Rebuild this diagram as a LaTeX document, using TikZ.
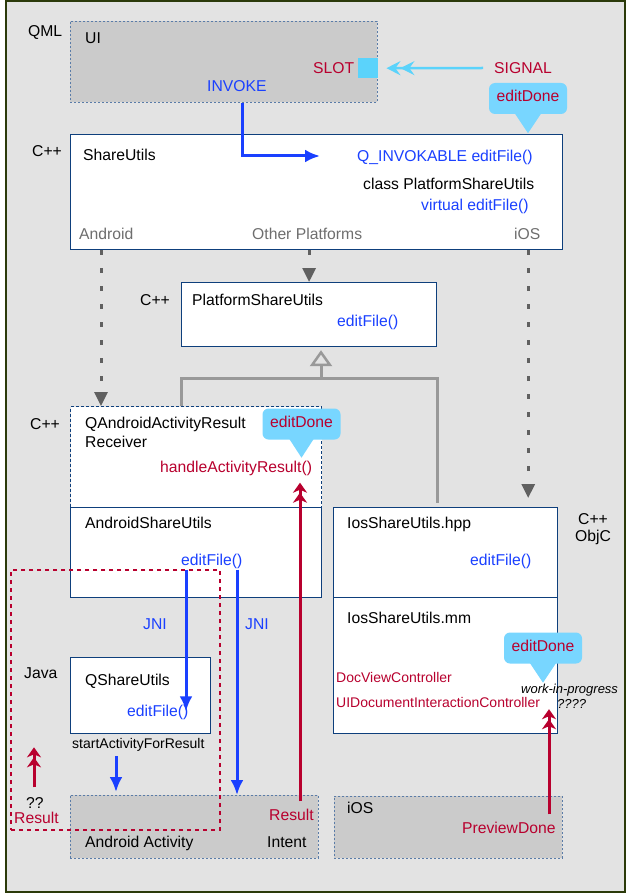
\documentclass[tikz,border=0pt]{standalone}
\usepackage{fontspec}
\setmainfont{Liberation Sans}
\usetikzlibrary{arrows.meta}

\definecolor{frameedge}{HTML}{2B3A0A}
\definecolor{bggray}{HTML}{E3E3E3}
\definecolor{pgray}{HTML}{CBCBCB}
\definecolor{navy}{HTML}{0E3F7C}
\definecolor{qtblue}{HTML}{1A40FF}
\definecolor{qtred}{HTML}{B8002E}
\definecolor{qtcyan}{HTML}{5BD3FB}
\definecolor{bubble}{HTML}{78D6FF}
\definecolor{lblgray}{HTML}{6E6E6E}
\definecolor{dotgray}{HTML}{606060}
\definecolor{inhgray}{HTML}{999999}
\definecolor{dotedge}{HTML}{5A7CA8}

\begin{document}
\begin{tikzpicture}
[
    x=1pt, y=-1pt,
    txt/.style={anchor=west, inner sep=0pt, text height=11pt, text depth=0pt, font=\fontsize{15.7}{18}\selectfont},
    note/.style={txt, text height=10pt, font=\fontsize{14}{16}\selectfont},
    fn/.style={txt, text=qtblue},
    sig/.style={txt, text=qtred},
    side/.style={txt, text=lblgray},
    cls/.style={draw=navy, line width=1.2pt, fill=white, anchor=north west, inner sep=0pt},
    rcv/.style={cls, dash pattern=on 3pt off 2pt},
    sys/.style={draw=dotedge, line width=0.8pt, dash pattern=on 2pt off 2pt, fill=pgray, anchor=north west, inner sep=0pt},
    bub/.style={fill=bubble, rounded corners=6pt, minimum width=78pt, minimum height=31pt, inner sep=0pt, text=qtred, text height=11pt, text depth=5pt, font=\fontsize{15.7}{18}\selectfont},
    call/.style={-{Latex[length=15pt,width=13pt]}, line width=3pt, qtblue},
    ret/.style={-{Stealth[length=10pt,width=14pt,inset=3pt]Stealth[length=10pt,width=14pt,inset=3pt]}, line width=3pt, qtred},
    impl/.style={-{Triangle[length=14pt,width=13pt]}, line width=3pt, dotgray, dash pattern=on 5pt off 13pt},
    inh/.style={line width=3pt, inhgray},
]
\useasboundingbox (0,0) rectangle (626,893);
\draw[fill=bggray, draw=frameedge, line width=1.5pt] (6,1) rectangle (625,892);

\node[sys, minimum width=307pt, minimum height=81pt] (ui) at (70,21) {};
\node[cls, minimum width=492pt, minimum height=115pt] (su) at (70,134) {};
\node[cls, minimum width=255pt, minimum height=64pt] (psu) at (181,282) {};
\node[rcv, minimum width=251pt, minimum height=101pt] (qaarr) at (70,406) {};
\node[cls, minimum width=251pt, minimum height=90pt] (asu) at (70,507) {};
\node[cls, minimum width=140pt, minimum height=76pt] (qsu) at (70,657) {};
\node[sys, minimum width=248pt, minimum height=63pt] (act) at (70,795) {};
\node[cls, minimum width=224pt, minimum height=90pt] (hpp) at (333,507) {};
\node[cls, minimum width=224pt, minimum height=136pt] (mm) at (333,597) {};
\node[sys, minimum width=228pt, minimum height=62pt] (ios) at (334,796) {};
\node[fill=qtcyan, minimum size=20pt, inner sep=0pt, anchor=north west] (slotpin) at (358,58) {};

\node[txt] (qml) at (28,31) {QML};
\node[txt] (uiname) at (85,38) {UI};
\node[fn] (invoke) at (207,86) {INVOKE};
\node[sig] (slot) at (313,68) {SLOT};
\node[sig] (signal) at (494,68) {SIGNAL};

\node[txt] (cpp1) at (32,151) {C++};
\node[txt] (suname) at (83,155) {ShareUtils};
\node[fn] (qinv) at (357,156) {Q\_INVOKABLE editFile()};
\node[txt] (pclass) at (363,184) {class PlatformShareUtils};
\node[fn] (virt) at (421,205) {virtual editFile()};
\node[side] (andr) at (79,234) {Android};
\node[side] (other) at (252,234) {Other Platforms};
\node[side] (iosl) at (514,234) {iOS};

\node[txt] (cpp2) at (140,300) {C++};
\node[txt] (psuname) at (192,300) {PlatformShareUtils};
\node[fn] (psuedit) at (337,321) {editFile()};

\node[txt] (cpp3) at (30,424) {C++};
\node[txt] (qaname) at (85,423) {QAndroidActivityResult};
\node[txt] (qaname2) at (85,442) {Receiver};
\node[sig] (handle) at (160,467) {handleActivityResult()};

\node[txt] (asuname) at (85,523) {AndroidShareUtils};
\node[fn] (asuedit) at (181,560) {editFile()};
\node[fn] (jni1) at (143,624) {JNI};
\node[fn] (jni2) at (245,624) {JNI};

\node[txt] (java) at (24,673) {Java};
\node[txt] (qsuname) at (85,680) {QShareUtils};
\node[fn] (qsuedit) at (127,711) {editFile()};
\node[note] (start) at (72,743) {startActivityForResult};

\node[txt] (qq) at (26,803) {??};
\node[sig] (res1) at (14,818) {Result};
\node[txt] (actname) at (85,842) {Android Activity};
\node[txt] (intent) at (267,842) {Intent};
\node[sig] (res2) at (269,815) {Result};

\node[txt] (cpp4) at (578,519) {C++};
\node[txt] (objc) at (575,536) {ObjC};
\node[txt] (hppname) at (347,523) {IosShareUtils.hpp};
\node[fn] (hppedit) at (470,560) {editFile()};
\node[txt] (mmname) at (347,618) {IosShareUtils.mm};
\node[note, text=qtred] (docview) at (336,677) {DocViewController};
\node[note, text=qtred] (uidoc) at (336,702) {UIDocumentInteractionController};
\node[txt, text height=9pt, font=\fontsize{13}{15}\selectfont\itshape] (wip) at (521,689) {work-in-progress};
\node[txt, text height=9pt, font=\fontsize{13}{15}\selectfont\itshape] (qqqq) at (557,704) {????};

\node[txt] (iosname) at (347,808) {iOS};
\node[sig] (preview) at (462,828) {PreviewDone};

\node[draw=qtred, line width=2pt, dash pattern=on 4pt off 4pt, minimum width=209pt, minimum height=260pt, inner sep=0pt, anchor=north west] (javaside) at (10,569) {};

\draw[call] ([xshift=172pt]ui.south west) |- ([xshift=-37pt]qinv.west);
\draw[-{Stealth[length=14pt,width=14pt,inset=5pt]Stealth[length=14pt,width=14pt,inset=5pt]}, line width=2.5pt, qtcyan] ([xshift=-11pt]signal.west) -- ([xshift=8pt]slotpin.east);

\draw[impl] ([xshift=31pt]su.south west) -- ([xshift=31pt]qaarr.north west);
\draw[impl] (psu.north |- su.south) -- (psu.north);
\draw[impl, shorten >=9pt] ([xshift=-35pt]su.south east) -- ([xshift=-30pt]hpp.north east);

\coordinate (hub) at (321,378);
\draw[inh, -{Triangle[open, length=16pt, width=22pt, line width=2.5pt]}, shorten >=3pt] (hub) -- (hub |- psu.south);
\draw[inh] ([xshift=111pt]qaarr.north west) |- (hub) -| ([xshift=104pt, yshift=4pt]hpp.north west);

\draw[call] ([yshift=-4pt]asuedit.south west -| 186,0) -- ([yshift=-6pt]qsuedit.north -| 186,0);
\draw[call] ([yshift=-4pt]asuedit.south west -| 237,0) -- (act.north -| 237,0);
\draw[call] ([yshift=-8pt]start.south -| 116,0) -- ([yshift=3pt]act.north -| 116,0);

\draw[ret] ([yshift=8pt]res2.north -| 300,0) -- ([yshift=-10pt]handle.south -| 300,0);
\draw[ret] ([yshift=10pt]qq.north -| 34,0) -- ([yshift=50pt]qq.north -| 34,0);
\draw[ret] ([yshift=8pt]preview.north -| 549,0) -- ([yshift=-2pt]uidoc.south -| 549,0);

\node[bub] (done1) at (528,98.5) {editDone};
\fill[bubble] ([xshift=-14pt, yshift=2pt]done1.south) -- ([yshift=-19pt]done1.south) -- ([xshift=14pt, yshift=2pt]done1.south) -- cycle;
\node[bub] (done2) at (301.5,424) {editDone};
\fill[bubble] ([xshift=-13pt, yshift=2pt]done2.south) -- ([yshift=-18pt]done2.south) -- ([xshift=13pt, yshift=2pt]done2.south) -- cycle;
\node[bub] (done3) at (543,648) {editDone};
\fill[bubble] ([xshift=-14pt, yshift=2pt]done3.south) -- ([yshift=-19pt]done3.south) -- ([xshift=14pt, yshift=2pt]done3.south) -- cycle;
\end{tikzpicture}
\end{document}
